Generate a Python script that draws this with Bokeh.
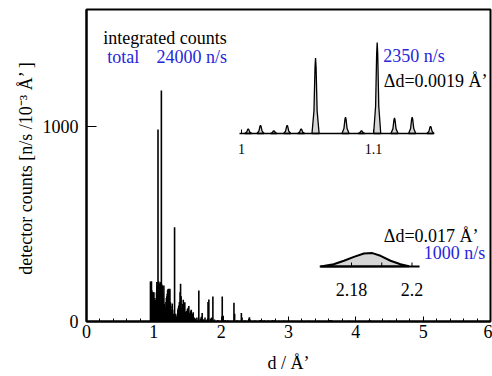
from bokeh.plotting import figure
from bokeh.models import Range1d, FixedTicker, ColumnDataSource
from bokeh.core.properties import value
from bokeh.embed import file_html
from bokeh.resources import INLINE

# ---------------- data ----------------
# main spectrum: peak positions (d, Angstrom) and heights (n/s / 1e-3 A)
main_d = [0.950, 0.955, 0.960, 0.965, 0.970, 0.975, 0.980, 0.985, 0.990, 0.995,
          1.000, 1.005, 1.010, 1.015, 1.020, 1.025, 1.030, 1.035, 1.040, 1.045,
          1.050, 1.062, 1.068, 1.073, 1.078, 1.083, 1.088, 1.093, 1.100, 1.112,
          1.118, 1.124, 1.130, 1.136, 1.142, 1.149, 1.155, 1.162, 1.168, 1.174,
          1.180, 1.186, 1.193, 1.199, 1.205, 1.212, 1.218, 1.225, 1.232, 1.238,
          1.245, 1.252, 1.260, 1.266, 1.273, 1.280, 1.288, 1.308, 1.318, 1.328,
          1.338, 1.348, 1.356, 1.363, 1.370, 1.380, 1.390, 1.397, 1.405, 1.412,
          1.420, 1.430, 1.437, 1.445, 1.452, 1.460, 1.470, 1.480, 1.490, 1.500,
          1.510, 1.520, 1.530, 1.540, 1.548, 1.556, 1.565, 1.575, 1.585, 1.600,
          1.620, 1.640, 1.668, 1.690, 1.705, 1.718, 1.740, 1.760, 1.790, 1.805,
          1.817, 1.840, 1.860, 1.877, 1.900, 1.950, 2.016, 2.030, 2.060, 2.100,
          2.190, 2.200, 2.240, 2.300, 2.310, 2.350, 2.420, 2.430, 2.500, 2.580,
          2.600, 2.640, 2.700, 2.760, 2.790, 2.860, 2.930, 3.000, 3.060, 3.200,
          3.300, 3.450, 3.620, 3.640, 3.900, 4.200, 4.220, 4.500]
main_h = [205, 200, 170, 207, 160, 120, 150, 100, 110, 150,
          150, 120, 110, 108, 100, 110, 95, 120, 150, 202,
          180, 985, 200, 205, 190, 195, 150, 120, 202, 1185,
          190, 185, 150, 120, 100, 185, 90, 70, 60, 73,
          100, 120, 130, 142, 160, 165, 168, 150, 160, 168,
          100, 80, 60, 50, 92, 60, 40, 483, 40, 30,
          25, 40, 60, 70, 82, 100, 150, 193, 130, 70,
          60, 90, 111, 80, 70, 99, 50, 40, 55, 65,
          70, 79, 45, 40, 55, 60, 35, 40, 48, 20,
          15, 20, 159, 15, 25, 43, 12, 20, 10, 100,
          113, 15, 20, 128, 10, 8, 128, 30, 8, 6,
          96, 40, 6, 43, 20, 5, 22, 10, 5, 8,
          6, 7, 5, 8, 6, 4, 5, 6, 4, 5,
          4, 4, 8, 6, 4, 7, 5, 4]

# inset 1: high-resolution detail around d = 1 .. 1.15 (relative heights)
inset1_d = [1.0051, 1.0144, 1.0245, 1.0346, 1.0452, 1.0561, 1.0788, 1.0909,
            1.1028, 1.1159, 1.1293, 1.1432]
inset1_h = [5, 9, 3, 9, 5, 83, 18, 3, 100, 17, 18, 8]
inset1_ticks = [1.0, 1.1]
inset1_tick_labels = ["1", "1.1"]
inset1_axis = [0.9985, 1.1455]

# inset 2: single peak around d = 2.18 (relative heights)
inset2_d = [2.1698, 2.1741, 2.1775, 2.1808, 2.1841, 2.1869, 2.1896, 2.1929, 2.1962, 2.1990]
inset2_h = [0, 17, 43, 72, 97, 100, 80, 43, 17, 2]
inset2_ticks = [2.18, 2.19, 2.20]
inset2_label_ticks = [2.18, 2.20]
inset2_tick_labels = ["2.18", "2.2"]
inset2_axis = [2.1695, 2.2025]

x_ticks = [0, 1, 2, 3, 4, 5, 6]
x_minor = [i * 0.2 for i in range(31)]
y_ticks = [0, 1000]

FONT = "Liberation Serif"
BLUE = "#2626d9"

p = figure(width=492, height=376, x_range=Range1d(0, 6), y_range=Range1d(0, 1600),
           output_backend="svg", toolbar_location=None,
           min_border_left=86, min_border_right=2, min_border_top=9, min_border_bottom=55)
p.background_fill_color = "white"
p.border_fill_color = "white"
p.outline_line_color = "black"
p.outline_line_width = 2
p.xgrid.visible = False
p.ygrid.visible = False

p.extra_x_ranges = {"i1x": Range1d(0.88258, 1.18864), "i2x": Range1d(2.09240, 2.22595)}
p.extra_y_ranges = {"i1y": Range1d(-206.6, 136.3), "i2y": Range1d(-410.4, 1917.9)}

# axes
xa = p.xaxis[0]
xa.ticker = FixedTicker(ticks=x_ticks, minor_ticks=x_minor)
xa.major_tick_in = 5
xa.major_tick_out = 0
xa.minor_tick_in = 3
xa.minor_tick_out = 0
xa.axis_line_width = 2
xa.major_label_standoff = 3
xa.axis_label = "d / Å’"
xa.axis_label_standoff = 12

ya = p.yaxis[0]
ya.ticker = FixedTicker(ticks=y_ticks, minor_ticks=[])
ya.major_tick_in = 10
ya.major_tick_out = 0
ya.minor_tick_in = 0
ya.minor_tick_out = 0
ya.axis_line_width = 2
ya.major_label_standoff = 8
ya.axis_label = "detector counts  [n/s /10⁻³ Å’ ]"
ya.axis_label_standoff = 4

for ax in (xa, ya):
    ax.major_label_text_font = FONT
    ax.major_label_text_font_size = "18px"
    ax.major_label_text_color = "black"
    ax.axis_label_text_font = FONT
    ax.axis_label_text_font_size = "18px"
    ax.axis_label_text_font_style = "normal"
    ax.axis_label_text_color = "black"
    ax.major_tick_line_color = "black"
    ax.minor_tick_line_color = "black"
    ax.axis_line_color = "black"

# main spectrum
src = ColumnDataSource(dict(x=main_d, y0=[0] * len(main_d), y1=main_h))
p.segment(x0="x", y0="y0", x1="x", y1="y1", source=src, line_color="black", line_width=1.6)

# inset 1
prof_dx = [-0.0027, -0.0012, -0.0004, 0.0, 0.0004, 0.0012, 0.0027]
prof_f = [0.0, 0.3, 0.88, 1.0, 0.88, 0.3, 0.0]
xs1 = [[d + dx for dx in prof_dx] for d in inset1_d]
ys1 = [[h * f for f in prof_f] for h in inset1_h]
p.patches(xs=xs1, ys=ys1, fill_color="#d6d6d6", line_color="black", line_width=1.3,
          x_range_name="i1x", y_range_name="i1y")
p.line(x=inset1_axis, y=[0, 0], line_color="black", line_width=1.5,
       x_range_name="i1x", y_range_name="i1y")
p.segment(x0=inset1_ticks, y0=[0] * 2, x1=inset1_ticks, y1=[4.4] * 2, line_color="black",
          line_width=1, x_range_name="i1x", y_range_name="i1y")
p.text(x=inset1_ticks, y=[-16.5] * 2, text=inset1_tick_labels, text_align="center",
       text_baseline="middle", text_font=value(FONT), text_font_size="14px",
       text_color="black", x_range_name="i1x", y_range_name="i1y")

# inset 2
p.patch(x=inset2_d, y=inset2_h, fill_color="#d6d6d6", line_color="black", line_width=2,
        x_range_name="i2x", y_range_name="i2y")
p.line(x=inset2_axis, y=[0, 0], line_color="black", line_width=2,
       x_range_name="i2x", y_range_name="i2y")
p.segment(x0=inset2_ticks, y0=[0] * 3, x1=inset2_ticks, y1=[30] * 3, line_color="black",
          line_width=1, x_range_name="i2x", y_range_name="i2y")
p.text(x=inset2_label_ticks, y=[-170] * 2, text=inset2_tick_labels, text_align="center",
       text_baseline="middle", text_font=value(FONT), text_font_size="18px",
       text_color="black", x_range_name="i2x", y_range_name="i2y")

# annotations
def note(x, y, t, color):
    p.text(x=[x], y=[y], text=[t], text_align="left", text_baseline="middle",
           text_font=value(FONT), text_font_size="18px", text_color=color)

note(0.248, 1456, "integrated counts", "black")
note(0.307, 1354, "total", BLUE)
note(1.040, 1354, "24000 n/s", BLUE)
note(4.407, 1364, "2350 n/s", BLUE)
note(4.416, 1231, "Δd=0.0019 Å’", "black")
note(4.416, 441, "Δd=0.017 Å’", "black")
note(5.010, 352, "1000 n/s", BLUE)

open("out.html", "w").write(file_html(p, INLINE))
